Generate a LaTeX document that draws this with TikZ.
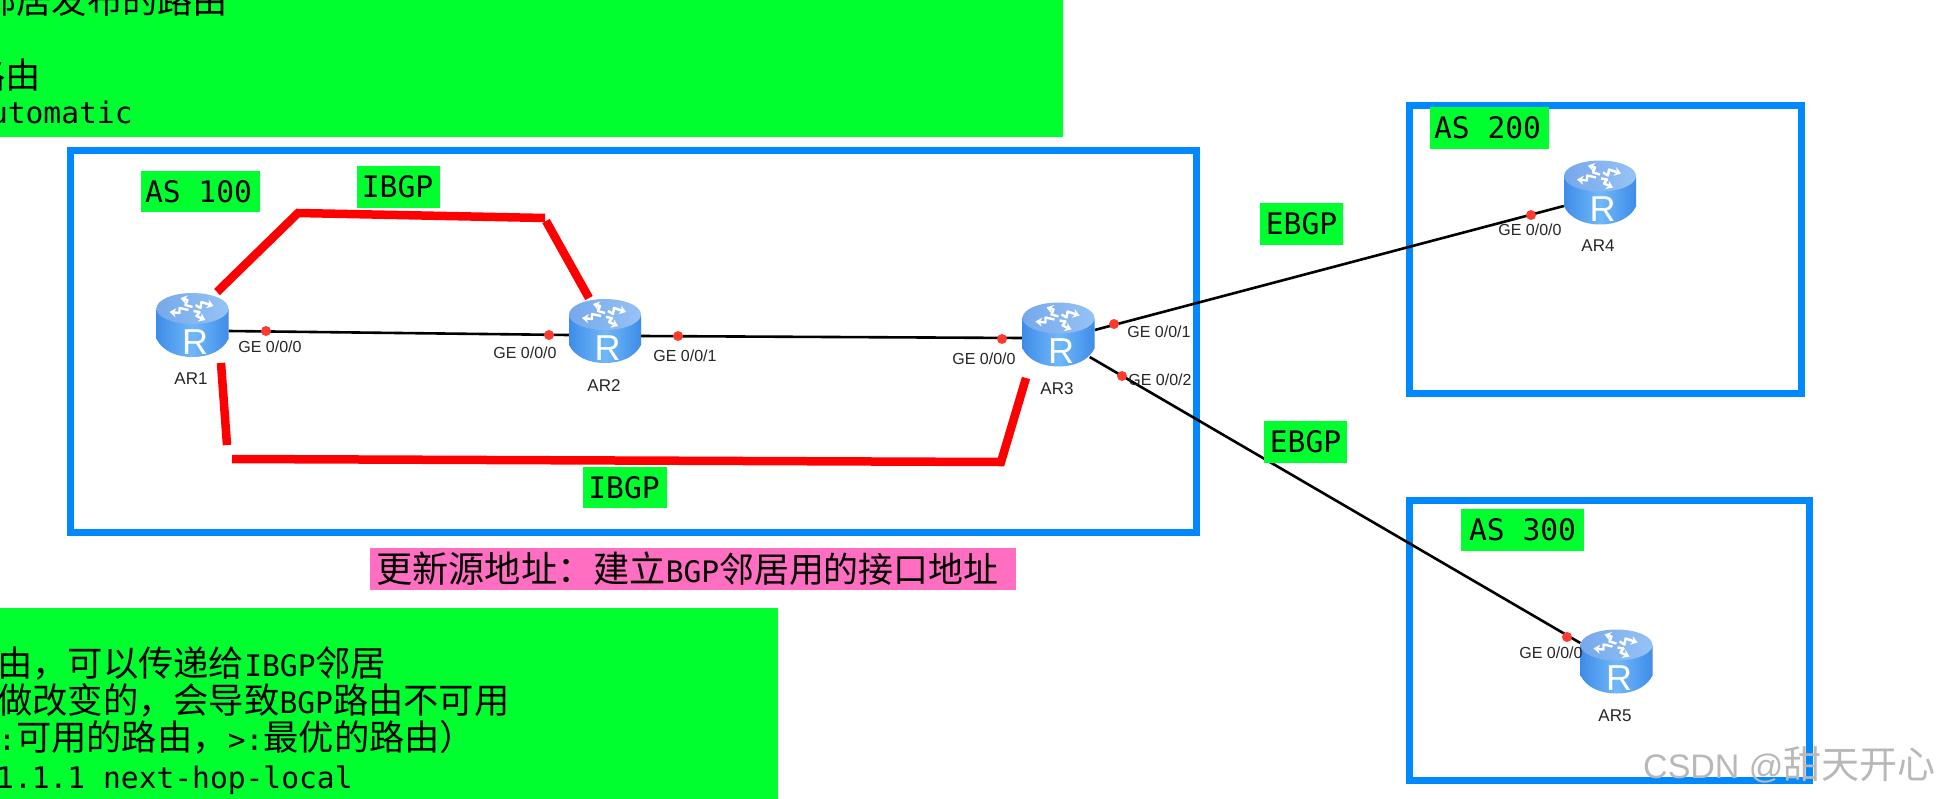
\documentclass[tikz,border=0pt]{standalone}
\usepackage{fontspec}
\setmainfont{Liberation Sans}
\newfontfamily\mnf{DejaVu Sans Mono}
\newfontfamily\cjf{Noto Sans CJK SC}
\usetikzlibrary{arrows.meta}
\definecolor{lbgreen}{RGB}{0,255,46}
\definecolor{asblue}{RGB}{0,136,255}
\definecolor{lbpink}{RGB}{255,110,192}
\definecolor{ptred}{RGB}{255,59,48}
\definecolor{bodydark}{RGB}{62,140,232}
\definecolor{bodylight}{RGB}{112,184,250}
\definecolor{topdark}{RGB}{118,168,235}
\definecolor{toplight}{RGB}{150,195,245}
\newcommand{\zh}[1]{{\cjf\fontsize{35.3}{40}\selectfont #1}}
\newcommand{\zhb}[1]{{\cjf\fontsize{36.2}{40}\selectfont #1}}
\newcommand{\zhc}[1]{{\cjf\fontsize{34.9}{40}\selectfont #1}}
\newcommand{\mo}[1]{{\mnf\fontsize{29.6}{34}\selectfont #1}}
\tikzset{
  asbox/.style={draw=asblue,line width=7pt,miter limit=10},
  tag/.style={fill=lbgreen,inner sep=0pt,font=\mnf\fontsize{29.6}{34}\selectfont,anchor=center},
  textline/.style={inner sep=0pt,anchor=base west},
  link/.style={draw=black,line width=2.6pt},
  ibgp/.style={draw=red,line width=8.5pt,line join=miter},
  ptdot/.style={circle,fill=ptred,draw=none,minimum size=10pt,inner sep=0pt},
  ifl/.style={font=\fontsize{16}{18}\selectfont,inner sep=0pt,text=black!85},
  rtl/.style={font=\fontsize{17}{20}\selectfont,inner sep=0pt,text=black!85},
  routerbox/.style={minimum width=72pt,minimum height=64pt,inner sep=0pt,draw=none},
  rarrow/.style={draw=white,line width=2.4pt,-{Stealth[length=6.5pt,width=9pt]},line join=round},
  pics/routericon/.style={code={
    \path[left color=bodydark,right color=bodydark,middle color=bodylight]
      (-36,-16) -- (-36,14) .. controls (-30,26) and (-16,32) .. (0,32)
      .. controls (16,32) and (30,26) .. (36,14) -- (36,-16) -- cycle;
    \path[left color=topdark,right color=toplight] (0,-16.5) ellipse [x radius=36,y radius=15.5];
    \draw[rarrow] (0,-18) -- (-7,-20) -- (-5,-25) -- (-12,-27);
    \draw[rarrow] (3,-20) -- (8,-17) -- (9,-23) -- (21,-19);
    \draw[rarrow] (-4,-15) -- (-13,-17) -- (-13,-12) -- (-23,-13);
    \draw[rarrow] (1,-14) -- (7,-13) -- (4,-9) -- (13,-5);
    \node[text=white,inner sep=0pt,font=\fontsize{36}{36}\selectfont] at (2.5,17) {R};
  }}
}
\begin{document}
\begin{tikzpicture}[x=1pt,y=-1pt]
\clip (0,0) rectangle (1936,798);
\fill[white] (0,0) rectangle (1936,798);

% panels
\fill[lbgreen] (-5,-5) rectangle (1063,137);
\fill[lbgreen] (-5,608) rectangle (778,803);
\node[textline] (p1) at (-19,13) {\zh{邻居发布的路由}};
\node[textline] (p2) at (-30,88) {\zh{路由}};
\node[textline] (p3) at (-28,123) {\mo{automatic}};
\node[textline] (q1) at (-3,676) {\zh{由，可以传递给}\mo{IBGP}\zh{邻居}};
\node[textline] (q2) at (-3,713) {\zh{做改变的，会导致}\mo{BGP}\zh{路由不可用}};
\node[textline] (q3) at (-2,750) {\mo{:}\zh{可用的路由，}\mo{>:}\zh{最优的路由）}};
\node[textline] (q4) at (-4,788) {\mo{1.1.1 next-hop-local}};

% AS boxes
\draw[asbox] (70,150) rectangle (1196,532);
\draw[asbox] (1409,105) rectangle (1801,393);
\draw[asbox] (1409,500) rectangle (1809,780);

% routers (anchors for the connectors)
\node[routerbox] (ar1) at (192.5,325) {};
\node[routerbox] (ar2) at (605,331) {};
\node[routerbox] (ar3) at (1058.5,334.5) {};
\node[routerbox] (ar4) at (1600,192.5) {};
\node[routerbox] (ar5) at (1616.5,661.5) {};

% links
\draw[link] ([yshift=-6pt]ar1.east) -- ([yshift=-4pt]ar2.west);
\draw[link] ([yshift=-5pt]ar2.east) -- ([yshift=-3.5pt]ar3.west);
\draw[link] ([yshift=4.5pt]ar3.east) -- ([yshift=-13.5pt]ar4.west);
\draw[link] ([xshift=-5pt,yshift=-22.5pt]ar3.east) -- ([yshift=18.5pt]ar5.west);

% IBGP paths
\coordinate (r1a) at (217,292);
\coordinate (r1b) at (298,213);
\coordinate (r1c) at (545,218);
\coordinate (r2a) at (546,221);
\coordinate (r2b) at (589,298);
\coordinate (r3a) at (221,363);
\coordinate (r3b) at (227,445);
\coordinate (r4a) at (232,459);
\coordinate (r4b) at (1001,462);
\coordinate (r4c) at (1026,378);
\draw[ibgp] (r1a) -- (r1b) -- (r1c);
\draw[ibgp] (r2a) -- (r2b);
\draw[ibgp] (r3a) -- (r3b);
\draw[ibgp] (r4a) -- (r4b) -- (r4c);

% router icons
\pic at (ar1) {routericon};
\pic at (ar2) {routericon};
\pic at (ar3) {routericon};
\pic at (ar4) {routericon};
\pic at (ar5) {routericon};

% interface dots
\node[ptdot] (d1) at (266,331) {};
\node[ptdot] (d2) at (549,335) {};
\node[ptdot] (d3) at (678,336) {};
\node[ptdot] (d4) at (1002,339) {};
\node[ptdot] (d5) at (1114,324) {};
\node[ptdot] (d6) at (1122,376) {};
\node[ptdot] (d7) at (1531,215) {};
\node[ptdot] (d8) at (1567,637) {};

% interface labels
\node[ifl] (g1) at (270,347) {GE 0/0/0};
\node[ifl] (g2) at (525,353) {GE 0/0/0};
\node[ifl] (g3) at (685,356) {GE 0/0/1};
\node[ifl] (g4) at (984,359) {GE 0/0/0};
\node[ifl] (g5) at (1159,332) {GE 0/0/1};
\node[ifl] (g6) at (1160,380) {GE 0/0/2};
\node[ifl] (g7) at (1530,230) {GE 0/0/0};
\node[ifl] (g8) at (1551,653) {GE 0/0/0};

% router names
\node[rtl] (n1) at (191,379) {AR1};
\node[rtl] (n2) at (604,386) {AR2};
\node[rtl] (n3) at (1057,389) {AR3};
\node[rtl] (n4) at (1598,246) {AR4};
\node[rtl] (n5) at (1615,716) {AR5};

% green tags
\node[tag,minimum width=119pt,minimum height=41pt] (t1) at (200.5,191.5) {\hspace*{-4pt}AS 100};
\node[tag,minimum width=83pt,minimum height=42pt] (t2) at (398.5,187) {\hspace*{-2pt}IBGP};
\node[tag,minimum width=84pt,minimum height=41pt] (t3) at (625,487.5) {\hspace*{-2pt}IBGP};
\node[tag,minimum width=119pt,minimum height=42pt] (t4) at (1489.5,128) {\hspace*{-4pt}AS 200};
\node[tag,minimum width=83pt,minimum height=42pt] (t5) at (1301.5,224) {EBGP};
\node[tag,minimum width=83pt,minimum height=42pt] (t6) at (1305.5,442) {EBGP};
\node[tag,minimum width=123pt,minimum height=42pt] (t7) at (1522.5,530) {AS 300};

% pink note
\fill[lbpink] (370,548) rectangle (1016,590);
\node[textline] (note) at (376,582) {\zhb{更新源地址：建立}\mo{BGP}\zhc{邻居用的接口地址}};

% watermark
\node[textline,text=black!28] (wm) at (1643,778) {\fontsize{34}{40}\selectfont CSDN @{\cjf\fontsize{38}{40}\selectfont 甜天开心}};
\end{tikzpicture}
\end{document}
